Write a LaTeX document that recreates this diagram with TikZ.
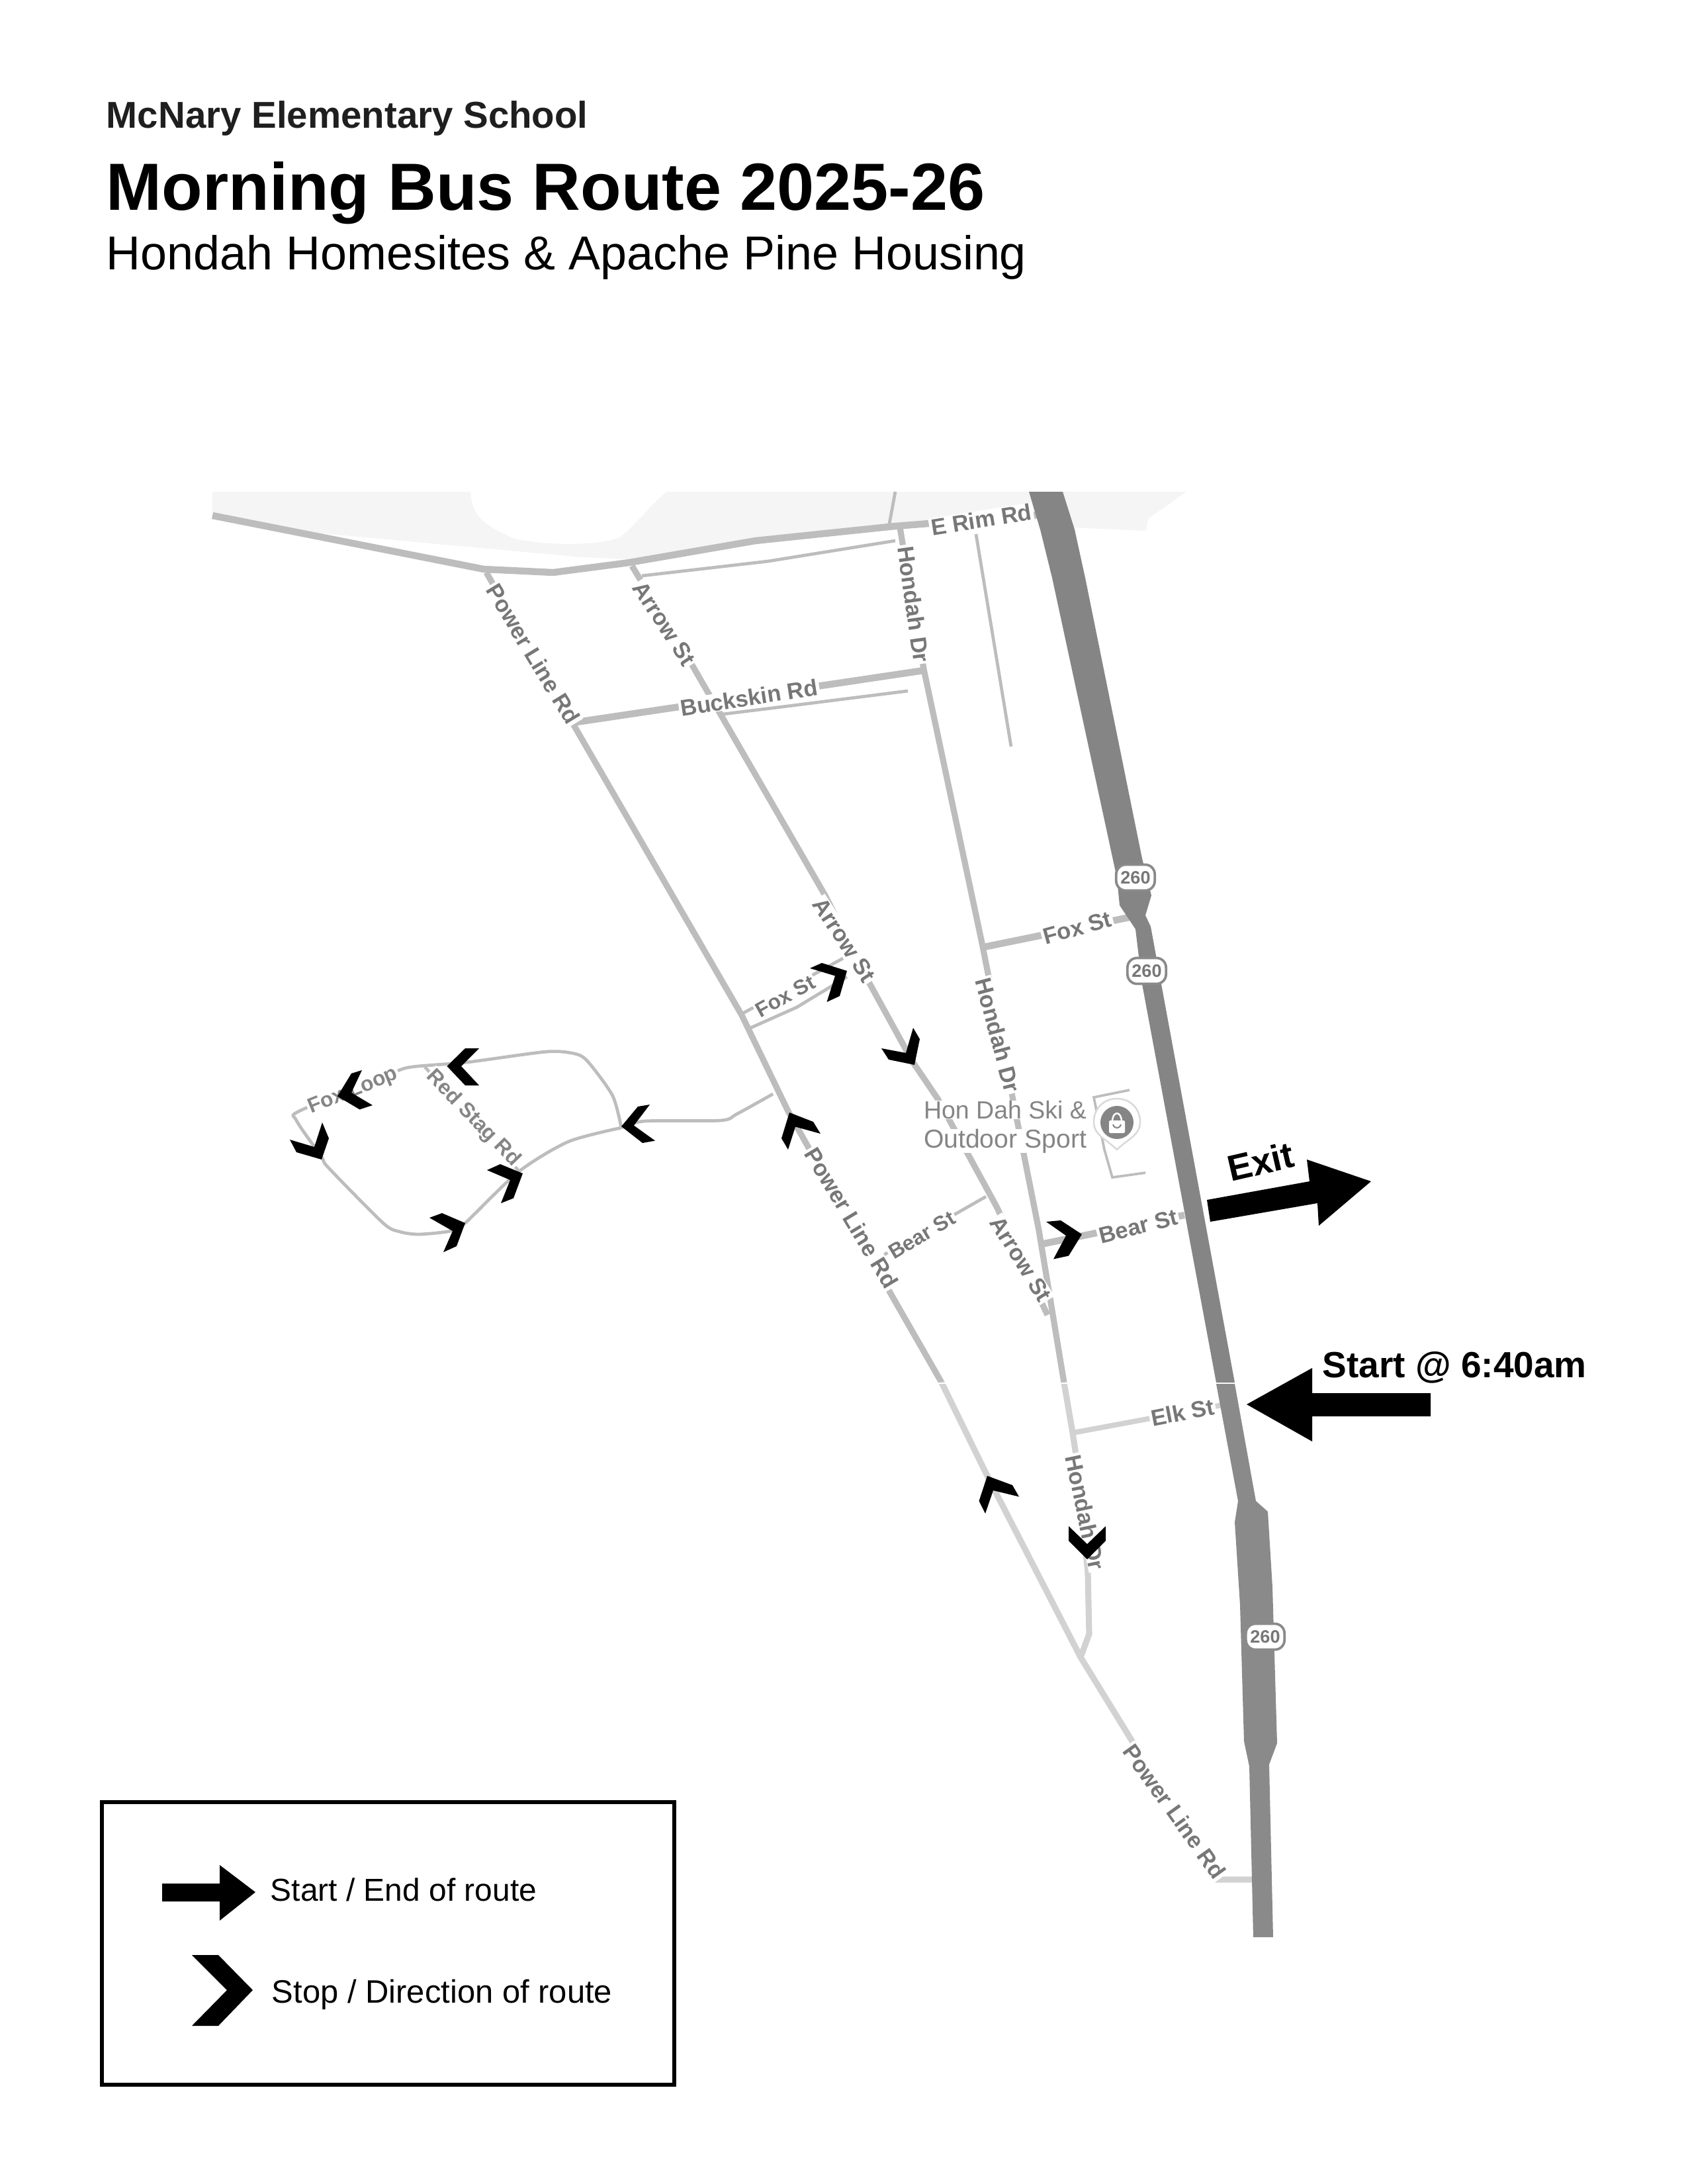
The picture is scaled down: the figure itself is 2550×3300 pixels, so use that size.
\documentclass[tikz,border=0pt]{standalone}
\usepackage{fontspec}
\setmainfont{Liberation Sans}
\definecolor{roadA}{HTML}{BDBDBD}
\definecolor{roadB}{HTML}{D2D2D2}
\definecolor{highA}{HTML}{858585}
\definecolor{highB}{HTML}{8A8A8A}
\definecolor{areaC}{HTML}{F5F5F5}
\definecolor{labC}{HTML}{777777}
\definecolor{poiC}{HTML}{858585}
\tikzset{
  wide/.style={draw=roadA,line width=2.5pt,line join=round},
  mid/.style={draw=roadA,line width=2.2pt,line join=round},
  thin/.style={draw=roadA,line width=1.15pt,line join=round},
  widepale/.style={draw=roadB,line width=2.2pt,line join=round},
  maplab/.style={font=\bfseries\fontsize{8.3}{9}\selectfont,text=labC,fill=white,inner xsep=0.6pt,inner ysep=0.2pt},
  poilab/.style={text=poiC,fill=white,inner xsep=0.3pt,inner ysep=0pt},
  shield/.style={draw=highB,fill=white,line width=0.9pt,rounded corners=3.5pt,minimum width=14pt,minimum height=9.4pt,inner sep=0pt,text=labC,font=\bfseries\fontsize{6.5}{7}\selectfont},
  chevron/.style={fill=black,draw=none},
  headtext/.style={anchor=base west,inner sep=0pt},
}
\begin{document}
\begin{tikzpicture}[x=0.24pt,y=-0.24pt]
\path[use as bounding box] (0,0) rectangle (2550,3300);

% pale band along the top of the map
\fill[areaC] (321,743) -- (711,743) .. controls (714,775) and (722,790) .. (778,814)
  .. controls (830,825) and (905,825) .. (936,812) .. controls (955,800) and (985,760) .. (1008,743)
  -- (1793,743) -- (1735,784) -- (1732,802) -- (1620,797) -- (1560,785) -- (1353,797) -- (1142,822)
  -- (950,845) -- (880,842) -- (443,802) -- (321,774) -- cycle;

% thin side roads
\draw[thin] (1353,743) -- (1343,797);
\draw[thin] (1475,807) -- (1528,1128);
\draw[thin] (970,870) -- (1161,848) -- (1353,817);
\draw[thin] (1085,1080) -- (1190,1067) -- (1372,1044);

% main roads
\draw[wide] (321,779) -- (731,860) -- (836,865) -- (951,850) -- (1142,817) -- (1353,795) -- (1570,778);
\draw[mid] (735,865) -- (865,1092) -- (1121,1534) -- (1191,1679) -- (1344,1951) -- (1423,2089);
\draw[mid] (955,855) -- (1042,998) -- (1247,1353) -- (1312,1482) -- (1379,1604) -- (1417,1660) -- (1506,1823) -- (1583,1987);
\draw[mid] (1360,797) -- (1396,1011) -- (1484,1425) -- (1570,1859) -- (1608,2089);
\draw[wide] (865,1092) -- (1396,1013);
\draw[wide] (1482,1432) -- (1707,1386);
\draw[wide] (1573,1880) -- (1790,1836);
\draw[thin] (1121,1532) -- (1274,1448);
\draw[thin] (1130,1555) -- (1204,1522) -- (1280,1476);
\draw[thin] (1334,1897) -- (1490,1808);

% paler southern part of the map
\draw[widepale] (1423,2089) -- (1492,2230) -- (1633,2504) -- (1711,2631) -- (1838,2840) -- (1894,2840);
\draw[widepale] (1608,2089) -- (1621,2165) -- (1626,2198) -- (1644,2376) -- (1646,2469) -- (1633,2504);
\draw[widepale,line width=1.9pt] (1621,2165) -- (1847,2123);

% Fox Loop, Red Stag Rd
\draw[roadA,line width=1.15pt,line join=round] plot[smooth,tension=0.45] coordinates {(1168,1653) (1114,1683) (1089,1693) (974,1694) (939,1704)};
\draw[roadA,line width=1.15pt,line join=round] plot[smooth,tension=0.45] coordinates {(939,1704) (926,1656) (891,1607) (872,1593) (827,1589) (706,1605) (623,1612) (591,1622) (454,1678) (448,1693) (486,1748) (496,1764) (579,1848) (604,1861) (633,1865) (681,1860) (703,1848) (783,1771) (859,1725) (939,1704)};
\draw[thin] (642,1612) -- (783,1768);

% highway
\fill[highA] (1555,743) -- (1572,800) -- (1590,873) -- (1688,1327) -- (1692,1368) -- (1716,1404) -- (1726,1487) -- (1838,2089)
  -- (1866,2089) -- (1755,1487) -- (1739,1400) -- (1731,1383) -- (1740,1353) -- (1726,1297) -- (1640,873) -- (1624,800) -- (1606,743) -- cycle;
\fill[highB] (1838,2091) -- (1871,2268) -- (1866,2300) -- (1874,2425) -- (1880,2631) -- (1888,2669) -- (1894,2927)
  -- (1924,2927) -- (1918,2666) -- (1930,2634) -- (1923,2398) -- (1916,2284) -- (1898,2268) -- (1866,2091) -- cycle;

% seam in the map
\draw[white,line width=0.4pt] (1410,2090) -- (1436,2090);
\draw[white,line width=0.4pt] (1596,2090) -- (1620,2090);

% building outline and pin
\draw[draw=roadA,line width=0.9pt] (1707,1647) -- (1653,1658) -- (1669,1737) -- (1681,1779) -- (1731,1772);
\filldraw[fill=white,draw=black!15,line width=0.6pt] (1688,1737) .. controls (1670,1720) and (1653,1715) .. (1653,1695)
  .. controls (1653,1675) and (1668,1660) .. (1688,1660) .. controls (1708,1660) and (1723,1675) .. (1723,1695)
  .. controls (1723,1715) and (1706,1720) .. (1688,1737) -- cycle;
\fill[poiC] (1688,1696) circle [radius=6pt];
\fill[white,rounded corners=0.5pt] (1676,1693) rectangle (1700,1712);
\draw[white,line width=0.6pt] (1681,1695) .. controls (1681,1678) and (1695,1678) .. (1695,1695);
\draw[poiC,line width=0.5pt] (1682,1699) .. controls (1684,1706) and (1692,1706) .. (1694,1699);

% shields
\node[shield] (s1) at (1716,1326) {260};
\node[shield] (s2) at (1733,1467) {260};
\node[shield] (s3) at (1912,2473) {260};

% road labels
\node[maplab,rotate=9] (lrim) at (1483,785) {E Rim Rd};
\node[maplab,rotate=-82] (lh1) at (1381,913) {Hondah Dr};
\node[maplab,rotate=-58.7] (lp1) at (806,988) {Power Line Rd};
\node[maplab,rotate=-57] (la1) at (1004,942) {Arrow St};
\node[maplab,rotate=8.8] (lbk) at (1132,1054) {Buckskin Rd};
\node[maplab,rotate=-57] (la2) at (1276,1420) {Arrow St};
\node[maplab,rotate=15.5] (lf1) at (1628,1402) {Fox St};
\node[maplab,rotate=29,font=\fontsize{7.6}{8}\selectfont\bfseries] (lf2) at (1187,1505) {Fox St};
\node[maplab,rotate=22,text=poiC,font=\fontsize{7.6}{8}\selectfont\bfseries] (lfl) at (534,1649) {Fox Loop};
\node[maplab,rotate=-46,text=poiC,font=\fontsize{7.6}{8}\selectfont\bfseries] (lrs) at (715,1690) {Red Stag Rd};
\node[maplab,rotate=-59] (lp2) at (1287,1840) {Power Line Rd};
\node[maplab,rotate=31,font=\fontsize{7.6}{8}\selectfont\bfseries] (lb1) at (1393,1866) {Bear St};
\node[maplab,rotate=-58] (la3) at (1543,1902) {Arrow St};
\node[maplab,rotate=-75] (lh2) at (1508,1564) {Hondah Dr};
\node[maplab,rotate=14] (lb2) at (1720,1853) {Bear St};
\node[maplab,rotate=11] (lelk) at (1787,2134) {Elk St};
\node[maplab,rotate=-78] (lh3) at (1640,2285) {Hondah Dr};
\node[maplab,rotate=-54.5] (lp3) at (1775,2737) {Power Line Rd};
\node[poilab,font=\fontsize{9}{10}\selectfont] (poi1) at (1519,1677) {Hon Dah Ski \&};
\node[poilab,font=\fontsize{9.4}{10}\selectfont] (poi2) at (1519,1724) {Outdoor Sport};

% stop chevrons
\fill[chevron] (675.5,1611) -- (703,1584) -- (724,1584) -- (697,1611) -- (724,1640) -- (703,1640) -- cycle;
\fill[chevron] (510,1656.5) -- (531,1622) -- (547,1617) -- (531,1651) -- (563,1670) -- (543.5,1676.4) -- cycle;
\fill[chevron] (486,1752) -- (497,1720) -- (487,1696) -- (475,1733) -- (438,1722) -- (448,1741) -- cycle;
\fill[chevron] (703,1848) -- (668,1833) -- (649,1840) -- (684,1860) -- (670,1892) -- (690,1883) -- cycle;
\fill[chevron] (790,1773) -- (756,1759) -- (736,1768) -- (771,1783) -- (757,1818) -- (776,1810.5) -- cycle;
\fill[chevron] (939,1702) -- (964,1672) -- (982,1669) -- (958,1700.6) -- (990,1723.6) -- (971,1727) -- cycle;
\fill[chevron] (1193,1681) -- (1181,1720) -- (1191,1737) -- (1202,1702.5) -- (1240,1713) -- (1229,1695) -- cycle;
\fill[chevron] (1280,1467) -- (1242,1455) -- (1224,1463) -- (1262,1474.5) -- (1249.5,1514) -- (1269,1505) -- cycle;
\fill[chevron] (1382,1609) -- (1390,1570) -- (1380,1553) -- (1369,1591) -- (1332,1584) -- (1343,1601) -- cycle;
\fill[chevron] (1635,1865) -- (1603,1844) -- (1581,1846) -- (1611,1867) -- (1592,1902.5) -- (1615,1897.5) -- cycle;
\fill[chevron] (1492,2230) -- (1479.5,2268) -- (1489,2287) -- (1501,2252) -- (1540,2261.5) -- (1530,2244) -- cycle;
\fill[chevron] (1643,2356) -- (1615,2328) -- (1615,2306) -- (1643,2333) -- (1671,2306) -- (1671,2328) -- cycle;

% exit and start arrows
\fill[chevron] (1824,1813) -- (1829,1846) -- (1991,1818) -- (1993,1852) -- (2072,1785) -- (1975,1752) -- (1979,1785) -- cycle;
\fill[chevron] (1884,2122) -- (1983,2067) -- (1983,2105) -- (2162,2105) -- (2162,2140) -- (1983,2140) -- (1983,2178) -- cycle;
\node[rotate=13,inner sep=0pt,font=\bfseries\fontsize{13.2}{14}\selectfont] (texit) at (1905,1755) {Exit};
\node[headtext,font=\bfseries\fontsize{13.2}{14}\selectfont] (tstart) at (1998,2081) {Start @ 6:40am};

% heading
\node[headtext,text=black!88,font=\bfseries\fontsize{13.55}{15}\selectfont] (t1) at (160,193) {McNary Elementary School};
\node[headtext,font=\bfseries\fontsize{24.2}{26}\selectfont] (t2) at (160,317) {Morning Bus Route 2025-26};
\node[headtext,font=\fontsize{17.25}{19}\selectfont] (t3) at (160,407) {Hondah Homesites \& Apache Pine Housing};

% legend
\draw[black,line width=1.44pt] (154,2723) rectangle (1019,3150);
\fill[chevron] (245,2846) -- (332,2846) -- (332,2818) -- (386,2859) -- (332,2902) -- (332,2873) -- (245,2873) -- cycle;
\fill[chevron] (290,2954) -- (330,2954) -- (382,3007) -- (330,3061) -- (290,3061) -- (343,3007) -- cycle;
\node[headtext,font=\fontsize{11.5}{12}\selectfont] (k1) at (408,2872) {Start / End of route};
\node[headtext,font=\fontsize{11.75}{12}\selectfont] (k2) at (410,3026) {Stop / Direction of route};
\end{tikzpicture}
\end{document}
